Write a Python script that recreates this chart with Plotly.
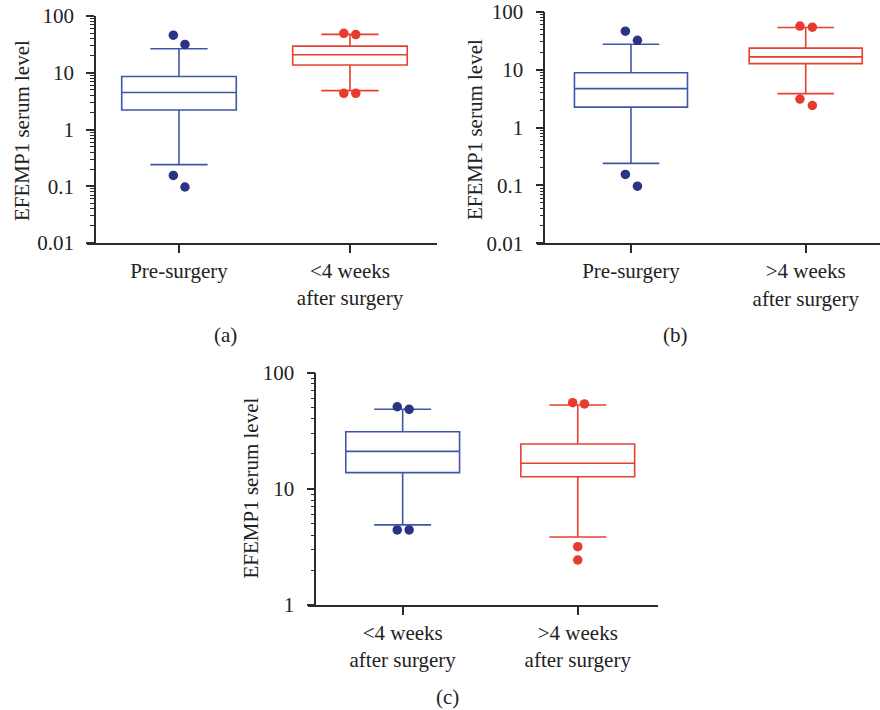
import plotly.graph_objects as go

W, H = 880, 710

# ---------------- data ----------------
# panel (a)
a_cats = ["Pre-surgery", "<4 weeks<br>after surgery"]
a_q1 = [2.2, 13.7]
a_med = [4.5, 20.8]
a_q3 = [8.6, 29.5]
a_lo = [0.24, 4.85]
a_hi = [26.5, 47.5]
a_out_y = [[46, 31.6, 0.155, 0.097], [49.5, 47, 4.35, 4.35]]

# panel (b)
b_cats = ["Pre-surgery", ">4 weeks<br>after surgery"]
b_q1 = [2.25, 12.7]
b_med = [4.7, 16.6]
b_q3 = [8.8, 23.5]
b_lo = [0.24, 3.85]
b_hi = [27.4, 53.5]
b_out_y = [[46, 32, 0.155, 0.097], [56.5, 54, 3.1, 2.4]]

# panel (c)
c_cats = ["<4 weeks<br>after surgery", ">4 weeks<br>after surgery"]
c_q1 = [13.8, 12.7]
c_med = [21.0, 16.6]
c_q3 = [31.0, 24.3]
c_lo = [4.9, 3.85]
c_hi = [48.4, 52.7]
c_out_y = [[50.9, 48.4, 4.43, 4.43], [55.2, 53.8, 3.18, 2.44]]

y_title = "EFEMP1 serum level"
panel_labels = ["(a)", "(b)", "(c)"]

# jitter offsets (style) for outlier dots
a_jit = [[-0.033, 0.035, -0.033, 0.035], [-0.036, 0.034, -0.036, 0.034]]
b_jit = [[-0.032, 0.037, -0.032, 0.037], [-0.033, 0.038, -0.033, 0.038]]
c_jit = [[-0.031, 0.037, -0.031, 0.037], [-0.029, 0.038, 0.0, 0.0]]

BLUE_LINE = "#3E56AA"
BLUE_DOT = "#2A3386"
RED_LINE = "#E8402F"
RED_DOT = "#E63B2E"
AX = "#2b2b2b"
TXT = "#222"
FONT = "Liberation Serif"
FS = 21

fig = go.Figure()

panels = [
    dict(cats=a_cats, q1=a_q1, med=a_med, q3=a_q3, lo=a_lo, hi=a_hi, out=a_out_y, jit=a_jit,
         xd=(87, 437), yaxpos=95, yd=(16, 243), xr=[-0.538, 1.509], yr=[-2, 2], bw=0.67,
         ytv=[0.01, 0.1, 1, 10, 100], ytt=["0.01", "0.1", "1", "10", "100"], dec=[-2, -1, 0, 1],
         title_xy=(22, 131), lab_xy=(225, 335)),
    dict(cats=b_cats, q1=b_q1, med=b_med, q3=b_q3, lo=b_lo, hi=b_hi, out=b_out_y, jit=b_jit,
         xd=(537.3, 880), yaxpos=544.3, yd=(11.7, 243.3), xr=[-0.536, 1.425], yr=[-2, 2], bw=0.647,
         ytv=[0.01, 0.1, 1, 10, 100], ytt=["0.01", "0.1", "1", "10", "100"], dec=[-2, -1, 0, 1],
         title_xy=(475, 130), lab_xy=(675, 335)),
    dict(cats=c_cats, q1=c_q1, med=c_med, q3=c_q3, lo=c_lo, hi=c_hi, out=c_out_y, jit=c_jit,
         xd=(308.3, 658.3), yaxpos=315.3, yd=(372.7, 605), xr=[-0.539, 1.46], yr=[0, 2], bw=0.65,
         ytv=[1, 10, 100], ytt=["1", "10", "100"], dec=[0, 1],
         title_xy=(250.5, 488), lab_xy=(448, 697)),
]

for i, p in enumerate(panels):
    n = "" if i == 0 else str(i + 1)
    xa, ya = "x" + n, "y" + n
    for k in range(2):
        lc = BLUE_LINE if k == 0 else RED_LINE
        dc = BLUE_DOT if k == 0 else RED_DOT
        fig.add_trace(go.Box(
            x=[k], q1=[p["q1"][k]], median=[p["med"][k]], q3=[p["q3"][k]],
            lowerfence=[p["lo"][k]], upperfence=[p["hi"][k]],
            width=p["bw"], whiskerwidth=0.5, fillcolor="white",
            line=dict(color=lc, width=1.6), boxpoints=False,
            xaxis=xa, yaxis=ya, showlegend=False, hoverinfo="skip"))
        fig.add_trace(go.Scatter(
            x=[k + j for j in p["jit"][k]], y=p["out"][k], mode="markers",
            marker=dict(color=dc, size=9.5), xaxis=xa, yaxis=ya,
            showlegend=False, hoverinfo="skip"))

    minor_vals = [m * 10 ** d for d in p["dec"] for m in range(2, 10)]
    xkey = "xaxis" + n
    ykey = "yaxis" + n
    fig.layout[xkey] = dict(
        domain=[p["xd"][0] / W, p["xd"][1] / W], range=p["xr"], anchor=ya,
        tickvals=[0, 1], ticktext=p["cats"], ticks="outside", ticklen=8,
        tickwidth=1.5, tickcolor=AX, showline=True, linecolor=AX, linewidth=1.5,
        showgrid=False, zeroline=False, tickfont=dict(family=FONT, size=FS, color=TXT),
        automargin=False, fixedrange=True)
    fig.layout[ykey] = dict(
        domain=[1 - p["yd"][1] / H, 1 - p["yd"][0] / H], type="log", range=p["yr"],
        anchor="free", position=p["yaxpos"] / W, tickvals=p["ytv"], ticktext=p["ytt"],
        ticks="outside", ticklen=8, tickwidth=1.5, tickcolor=AX, ticklabelstandoff=8,
        minor=dict(tickvals=minor_vals, ticks="outside", ticklen=4, tickwidth=1.2,
                   tickcolor=AX, showgrid=False),
        showline=True, linecolor=AX, linewidth=1.5, showgrid=False, zeroline=False,
        tickfont=dict(family=FONT, size=FS, color=TXT),
        automargin=False, fixedrange=True)

    tx, ty = p["title_xy"]
    fig.add_annotation(text=y_title, x=tx / W, y=1 - ty / H, xref="paper", yref="paper",
                       textangle=-90, showarrow=False, xanchor="center", yanchor="middle",
                       font=dict(family=FONT, size=FS, color=TXT))
    lx, ly = p["lab_xy"]
    fig.add_annotation(text=panel_labels[i], x=lx / W, y=1 - ly / H, xref="paper", yref="paper",
                       showarrow=False, xanchor="center", yanchor="middle",
                       font=dict(family=FONT, size=FS, color=TXT))

fig.update_layout(width=W, height=H, margin=dict(l=0, r=0, t=0, b=0, autoexpand=False),
                  paper_bgcolor="white", plot_bgcolor="white", hovermode=False)

fig.write_html("out.html", config={"displayModeBar": False},
               post_script="document.body.style.margin='0px';document.body.style.padding='0px';")
